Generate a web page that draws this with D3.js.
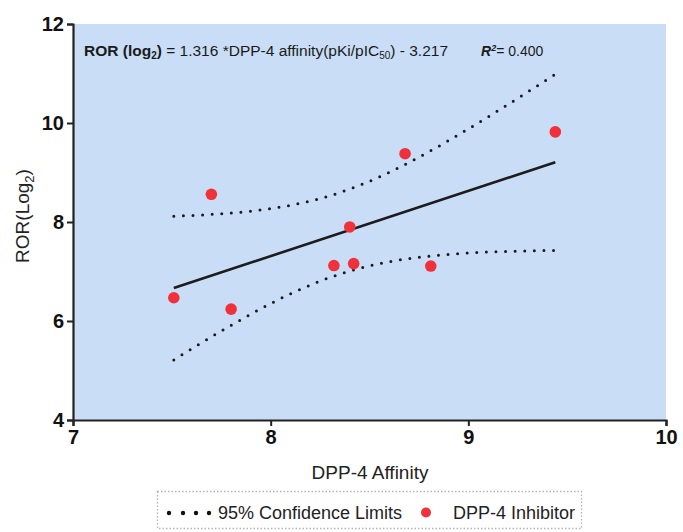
<!DOCTYPE html>
<html>
<head>
<meta charset="utf-8">
<script src="https://cdn.jsdelivr.net/npm/d3@7"></script>
<style>
  html, body { margin: 0; padding: 0; background: #ffffff; }
  svg { display: block; font-family: "Liberation Sans", Arial, sans-serif; }
</style>
</head>
<body>
<svg id="chart" width="683" height="532"></svg>
<script>
// DPP-4 affinity (pKi/pIC50) and reporting odds ratio (log2) per inhibitor
const affinity = [7.51, 7.70, 7.80, 8.32, 8.40, 8.42, 8.68, 8.81, 9.44];
const rorLog2  = [6.47, 8.56, 6.24, 7.12, 7.90, 7.16, 9.38, 7.11, 9.82];

// Fitted regression reported on the chart
const slope = 1.316;
const intercept = -3.217;
const rSquared = "0.400";
const tCrit = 2.365; // two-sided 95%, df = n - 2 = 7

const xTicks = [7, 8, 9, 10];
const yTicks = [4, 6, 8, 10, 12];

const svg = d3.select("#chart");
const plotLeft = 73, plotRight = 666, plotTop = 24, plotBottom = 420;

const x = d3.scaleLinear().domain([7, 10]).range([plotLeft, plotRight]);
const y = d3.scaleLinear().domain([4, 12]).range([plotBottom, plotTop]);

// plot background
svg.append("rect")
  .attr("x", plotLeft).attr("y", plotTop)
  .attr("width", plotRight - plotLeft).attr("height", plotBottom - plotTop)
  .attr("fill", "#c9def6");

// confidence band for the mean response
const n = affinity.length;
const xMean = d3.mean(affinity);
const fit = v => slope * v + intercept;
const sxx = d3.sum(affinity, v => (v - xMean) ** 2);
const sse = d3.sum(affinity, (v, i) => (rorLog2[i] - fit(v)) ** 2);
const s = Math.sqrt(sse / (n - 2));
const [xMin, xMax] = d3.extent(affinity);
const xs = d3.range(0, 61).map(i => xMin + (xMax - xMin) * i / 60);
const half = v => tCrit * s * Math.sqrt(1 / n + (v - xMean) ** 2 / sxx);

const line = d3.line().x(d => x(d[0])).y(d => y(d[1]));

[1, -1].forEach(sign => {
  svg.append("path")
    .datum(xs.map(v => [v, fit(v) + sign * half(v)]))
    .attr("d", line)
    .attr("fill", "none")
    .attr("stroke", "#1a1a1a")
    .attr("stroke-width", 3)
    .attr("stroke-linecap", "round")
    .attr("stroke-dasharray", "0 9.6");
});

// regression line
svg.append("path")
  .datum([[xMin, fit(xMin)], [xMax, fit(xMax)]])
  .attr("d", line)
  .attr("fill", "none")
  .attr("stroke", "#1c1c1c")
  .attr("stroke-width", 2.6);

// data points
svg.append("g").selectAll("circle")
  .data(affinity.map((v, i) => [v, rorLog2[i]]))
  .join("circle")
  .attr("cx", d => x(d[0]))
  .attr("cy", d => y(d[1]))
  .attr("r", 5.8)
  .attr("fill", "#f0303a");

// axes
const xAxis = svg.append("g")
  .attr("transform", `translate(0,${plotBottom})`)
  .call(d3.axisBottom(x).tickValues(xTicks).tickSize(6).tickPadding(4).tickFormat(d3.format("d")));
const yAxis = svg.append("g")
  .attr("transform", `translate(${plotLeft},0)`)
  .call(d3.axisLeft(y).tickValues(yTicks).tickSize(6).tickPadding(3).tickFormat(d3.format("d")));

[xAxis, yAxis].forEach(g => {
  g.select(".domain").attr("stroke", "#222").attr("stroke-width", 2.2);
  g.selectAll(".tick line").attr("stroke", "#222").attr("stroke-width", 2);
  g.selectAll(".tick text")
    .attr("fill", "#111")
    .attr("font-family", "Liberation Sans, Arial, sans-serif")
    .attr("font-size", 20)
    .attr("font-weight", "bold");
});

// axis titles
svg.append("text")
  .attr("x", 370).attr("y", 479)
  .attr("text-anchor", "middle")
  .attr("font-size", 19)
  .attr("fill", "#222")
  .text("DPP-4 Affinity");

const yTitle = svg.append("text")
  .attr("transform", "translate(29,216) rotate(-90)")
  .attr("text-anchor", "middle")
  .attr("font-size", 19)
  .attr("fill", "#222");
yTitle.append("tspan").text("ROR(Log");
yTitle.append("tspan").attr("font-size", 13).attr("dy", 5).text("2");
yTitle.append("tspan").attr("dy", -5).text(")");

// regression equation
const eq = svg.append("text")
  .attr("x", 84).attr("y", 56)
  .attr("font-size", 15.5)
  .attr("fill", "#1a1a1a");
eq.append("tspan").attr("font-weight", "bold").text("ROR (log");
eq.append("tspan").attr("font-weight", "bold").attr("font-size", 10).attr("dy", 3).text("2");
eq.append("tspan").attr("font-weight", "bold").attr("dy", -3).text(")");
eq.append("tspan").text(` = ${slope} *DPP-4 affinity(pKi/pIC`);
eq.append("tspan").attr("font-size", 10).attr("dy", 3).text("50");
eq.append("tspan").attr("dy", -3).text(`) - ${Math.abs(intercept)}`);

const r2 = svg.append("text")
  .attr("x", 481).attr("y", 56)
  .attr("font-size", 14)
  .attr("fill", "#1a1a1a");
r2.append("tspan").attr("font-weight", "bold").attr("font-style", "italic").text("R");
r2.append("tspan").attr("font-weight", "bold").attr("font-style", "italic").attr("font-size", 9).attr("dy", -5).text("2");
r2.append("tspan").attr("dy", 5).text(`= ${rSquared}`);

// legend
const legend = svg.append("g");
legend.append("rect")
  .attr("x", 157.5).attr("y", 491.5)
  .attr("width", 424).attr("height", 37)
  .attr("fill", "none")
  .attr("stroke", "#b4b4b4")
  .attr("stroke-width", 1.3)
  .attr("stroke-dasharray", "1.5 2");
legend.selectAll("circle.ci")
  .data([169, 183, 196, 209])
  .join("circle")
  .attr("class", "ci")
  .attr("cx", d => d).attr("cy", 513)
  .attr("r", 2.2)
  .attr("fill", "#111");
legend.append("text")
  .attr("x", 218).attr("y", 519)
  .attr("font-size", 18)
  .attr("fill", "#222")
  .text("95% Confidence Limits");
legend.append("circle")
  .attr("cx", 426).attr("cy", 512.5)
  .attr("r", 5)
  .attr("fill", "#f0303a");
legend.append("text")
  .attr("x", 453).attr("y", 519)
  .attr("font-size", 18)
  .attr("fill", "#222")
  .text("DPP-4 Inhibitor");
</script>
</body>
</html>
